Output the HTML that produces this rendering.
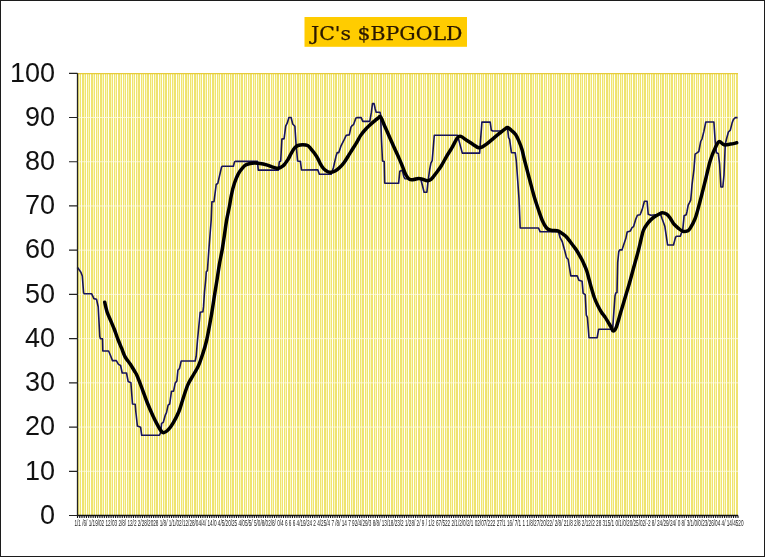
<!DOCTYPE html>
<html><head><meta charset="utf-8"><title>JC's $BPGOLD</title>
<style>
html,body{margin:0;padding:0;background:#fff;}
#chart{position:relative;width:765px;height:557px;box-sizing:border-box;border:1px solid #1c1c1c;background:#fff;overflow:hidden;}
#chart svg{position:absolute;left:-1px;top:-1px;will-change:transform;}
.yl{font-family:"Liberation Sans",sans-serif;font-size:27px;fill:#111;}
.xl{font-family:"Liberation Sans",sans-serif;font-size:8.3px;fill:#1a1a1a;}
.tt{font-family:"DejaVu Serif","Liberation Serif",serif;font-size:18.6px;fill:#2a1800;stroke:#2a1800;stroke-width:0.25px;}
</style></head>
<body>
<div id="chart">
<svg width="765" height="557" viewBox="0 0 765 557">
<rect x="77.5" y="73.3" width="660.5" height="442.2" fill="#EFE370"/>
<path d="M81.50 73.3V515.5M86.50 73.3V515.5M90.50 73.3V515.5M95.50 73.3V515.5M99.50 73.3V515.5M104.50 73.3V515.5M108.50 73.3V515.5M113.50 73.3V515.5M117.50 73.3V515.5M122.50 73.3V515.5M126.50 73.3V515.5M131.50 73.3V515.5M135.50 73.3V515.5M140.50 73.3V515.5M144.50 73.3V515.5M149.50 73.3V515.5M153.50 73.3V515.5M158.50 73.3V515.5M162.50 73.3V515.5M167.50 73.3V515.5M171.50 73.3V515.5M176.50 73.3V515.5M180.50 73.3V515.5M184.50 73.3V515.5M189.50 73.3V515.5M193.50 73.3V515.5M198.50 73.3V515.5M202.50 73.3V515.5M207.50 73.3V515.5M211.50 73.3V515.5M216.50 73.3V515.5M220.50 73.3V515.5M225.50 73.3V515.5M229.50 73.3V515.5M234.50 73.3V515.5M238.50 73.3V515.5M243.50 73.3V515.5M247.50 73.3V515.5M252.50 73.3V515.5M256.50 73.3V515.5M261.50 73.3V515.5M265.50 73.3V515.5M270.50 73.3V515.5M274.50 73.3V515.5M279.50 73.3V515.5M283.50 73.3V515.5M287.50 73.3V515.5M292.50 73.3V515.5M296.50 73.3V515.5M301.50 73.3V515.5M305.50 73.3V515.5M310.50 73.3V515.5M314.50 73.3V515.5M319.50 73.3V515.5M323.50 73.3V515.5M328.50 73.3V515.5M332.50 73.3V515.5M337.50 73.3V515.5M341.50 73.3V515.5M346.50 73.3V515.5M350.50 73.3V515.5M355.50 73.3V515.5M359.50 73.3V515.5M364.50 73.3V515.5M368.50 73.3V515.5M373.50 73.3V515.5M377.50 73.3V515.5M382.50 73.3V515.5M386.50 73.3V515.5M390.50 73.3V515.5M395.50 73.3V515.5M399.50 73.3V515.5M404.50 73.3V515.5M408.50 73.3V515.5M413.50 73.3V515.5M417.50 73.3V515.5M422.50 73.3V515.5M426.50 73.3V515.5M431.50 73.3V515.5M435.50 73.3V515.5M440.50 73.3V515.5M444.50 73.3V515.5M449.50 73.3V515.5M453.50 73.3V515.5M458.50 73.3V515.5M462.50 73.3V515.5M467.50 73.3V515.5M471.50 73.3V515.5M476.50 73.3V515.5M480.50 73.3V515.5M484.50 73.3V515.5M489.50 73.3V515.5M493.50 73.3V515.5M498.50 73.3V515.5M502.50 73.3V515.5M507.50 73.3V515.5M511.50 73.3V515.5M516.50 73.3V515.5M520.50 73.3V515.5M525.50 73.3V515.5M529.50 73.3V515.5M534.50 73.3V515.5M538.50 73.3V515.5M543.50 73.3V515.5M547.50 73.3V515.5M552.50 73.3V515.5M556.50 73.3V515.5M561.50 73.3V515.5M565.50 73.3V515.5M570.50 73.3V515.5M574.50 73.3V515.5M579.50 73.3V515.5M583.50 73.3V515.5M587.50 73.3V515.5M592.50 73.3V515.5M596.50 73.3V515.5M601.50 73.3V515.5M605.50 73.3V515.5M610.50 73.3V515.5M614.50 73.3V515.5M619.50 73.3V515.5M623.50 73.3V515.5M628.50 73.3V515.5M632.50 73.3V515.5M637.50 73.3V515.5M641.50 73.3V515.5M646.50 73.3V515.5M650.50 73.3V515.5M655.50 73.3V515.5M659.50 73.3V515.5M664.50 73.3V515.5M668.50 73.3V515.5M673.50 73.3V515.5M677.50 73.3V515.5M682.50 73.3V515.5M686.50 73.3V515.5M690.50 73.3V515.5M695.50 73.3V515.5M699.50 73.3V515.5M704.50 73.3V515.5M708.50 73.3V515.5M713.50 73.3V515.5M717.50 73.3V515.5M722.50 73.3V515.5M726.50 73.3V515.5M731.50 73.3V515.5M735.50 73.3V515.5" stroke="#FFFFFA" stroke-width="1" fill="none"/>
<path d="M79.50 73.3V515.5M84.50 73.3V515.5M88.50 73.3V515.5M93.50 73.3V515.5M97.50 73.3V515.5M102.50 73.3V515.5M106.50 73.3V515.5M111.50 73.3V515.5M115.50 73.3V515.5M120.50 73.3V515.5M124.50 73.3V515.5M128.50 73.3V515.5M133.50 73.3V515.5M137.50 73.3V515.5M142.50 73.3V515.5M146.50 73.3V515.5M151.50 73.3V515.5M155.50 73.3V515.5M160.50 73.3V515.5M164.50 73.3V515.5M169.50 73.3V515.5M173.50 73.3V515.5M178.50 73.3V515.5M182.50 73.3V515.5M187.50 73.3V515.5M191.50 73.3V515.5M196.50 73.3V515.5M200.50 73.3V515.5M205.50 73.3V515.5M209.50 73.3V515.5M214.50 73.3V515.5M218.50 73.3V515.5M223.50 73.3V515.5M227.50 73.3V515.5M231.50 73.3V515.5M236.50 73.3V515.5M240.50 73.3V515.5M245.50 73.3V515.5M249.50 73.3V515.5M254.50 73.3V515.5M258.50 73.3V515.5M263.50 73.3V515.5M267.50 73.3V515.5M272.50 73.3V515.5M276.50 73.3V515.5M281.50 73.3V515.5M285.50 73.3V515.5M290.50 73.3V515.5M294.50 73.3V515.5M299.50 73.3V515.5M303.50 73.3V515.5M308.50 73.3V515.5M312.50 73.3V515.5M317.50 73.3V515.5M321.50 73.3V515.5M326.50 73.3V515.5M330.50 73.3V515.5M334.50 73.3V515.5M339.50 73.3V515.5M343.50 73.3V515.5M348.50 73.3V515.5M352.50 73.3V515.5M357.50 73.3V515.5M361.50 73.3V515.5M366.50 73.3V515.5M370.50 73.3V515.5M375.50 73.3V515.5M379.50 73.3V515.5M384.50 73.3V515.5M388.50 73.3V515.5M393.50 73.3V515.5M397.50 73.3V515.5M402.50 73.3V515.5M406.50 73.3V515.5M411.50 73.3V515.5M415.50 73.3V515.5M420.50 73.3V515.5M424.50 73.3V515.5M429.50 73.3V515.5M433.50 73.3V515.5M437.50 73.3V515.5M442.50 73.3V515.5M446.50 73.3V515.5M451.50 73.3V515.5M455.50 73.3V515.5M460.50 73.3V515.5M464.50 73.3V515.5M469.50 73.3V515.5M473.50 73.3V515.5M478.50 73.3V515.5M482.50 73.3V515.5M487.50 73.3V515.5M491.50 73.3V515.5M496.50 73.3V515.5M500.50 73.3V515.5M505.50 73.3V515.5M509.50 73.3V515.5M514.50 73.3V515.5M518.50 73.3V515.5M523.50 73.3V515.5M527.50 73.3V515.5M532.50 73.3V515.5M536.50 73.3V515.5M540.50 73.3V515.5M545.50 73.3V515.5M549.50 73.3V515.5M554.50 73.3V515.5M558.50 73.3V515.5M563.50 73.3V515.5M567.50 73.3V515.5M572.50 73.3V515.5M576.50 73.3V515.5M581.50 73.3V515.5M585.50 73.3V515.5M590.50 73.3V515.5M594.50 73.3V515.5M599.50 73.3V515.5M603.50 73.3V515.5M608.50 73.3V515.5M612.50 73.3V515.5M617.50 73.3V515.5M621.50 73.3V515.5M626.50 73.3V515.5M630.50 73.3V515.5M635.50 73.3V515.5M639.50 73.3V515.5M643.50 73.3V515.5M648.50 73.3V515.5M652.50 73.3V515.5M657.50 73.3V515.5M661.50 73.3V515.5M666.50 73.3V515.5M670.50 73.3V515.5M675.50 73.3V515.5M679.50 73.3V515.5M684.50 73.3V515.5M688.50 73.3V515.5M693.50 73.3V515.5M697.50 73.3V515.5M702.50 73.3V515.5M706.50 73.3V515.5M711.50 73.3V515.5M715.50 73.3V515.5M720.50 73.3V515.5M724.50 73.3V515.5M729.50 73.3V515.5M733.50 73.3V515.5" stroke="#FBF8BC" stroke-width="1" fill="none"/>
<path d="M77.5 471.28H738.0M77.5 427.06H738.0M77.5 382.84H738.0M77.5 338.62H738.0M77.5 294.40H738.0M77.5 250.18H738.0M77.5 205.96H738.0M77.5 161.74H738.0M77.5 117.52H738.0" stroke="#FFFCE8" stroke-width="0.75" fill="none"/>
<path d="M77.5 73.70H738.0" stroke="#E6CC3C" stroke-width="1.2"/>
<polyline points="77.0,267.5 78.0,267.9 79.3,270.1 80.9,272.2 82.3,276.0 83.6,292.7 84.2,293.8 91.7,293.8 93.9,298.6 96.5,299.2 98.2,306.7 99.8,336.6 100.4,338.6 102.5,338.8 102.8,351.0 108.6,351.0 110.4,355.2 112.5,360.6 116.3,360.6 118.5,364.4 120.6,365.5 122.2,373.0 126.5,373.0 128.2,381.6 130.9,382.7 132.5,404.0 135.2,404.3 135.8,411.5 137.4,426.1 140.6,427.2 141.7,435.3 159.5,435.3 160.6,432.6 161.6,423.4 163.3,422.3 165.4,414.8 166.5,412.6 168.1,405.1 169.7,404.0 171.5,391.2 173.6,391.2 175.2,383.1 176.9,380.9 177.9,370.2 179.5,368.5 181.2,361.0 195.2,361.0 196.2,356.2 197.5,340.0 200.2,312.3 202.9,311.8 203.5,306.9 204.5,291.9 205.7,280.0 206.3,271.7 207.4,270.6 209.0,248.0 211.2,220.0 211.9,201.7 214.0,201.7 216.2,184.5 217.8,183.4 221.5,167.2 222.6,166.2 233.4,166.2 234.5,161.9 235.6,161.3 257.4,161.4 258.3,170.1 278.4,170.1 279.3,161.9 280.7,161.0 281.9,139.1 284.1,138.6 285.7,126.2 287.3,122.9 288.9,117.5 291.1,117.5 292.7,124.0 294.9,126.2 295.9,142.3 297.6,161.0 300.4,161.4 301.5,170.0 317.8,169.9 319.4,174.2 331.2,174.2 333.4,167.7 336.1,155.9 337.2,152.6 338.8,152.6 340.9,146.2 344.2,139.7 346.3,135.2 349.3,134.9 350.9,127.3 352.0,125.7 353.6,124.6 355.8,118.2 356.9,117.6 361.2,117.6 362.8,121.4 369.8,121.4 371.4,112.2 372.5,103.6 374.1,103.6 375.2,109.0 376.2,112.2 380.0,112.2 380.6,114.9 381.5,140.0 382.5,161.0 384.2,161.5 384.7,183.1 398.6,183.3 399.8,171.2 402.3,170.3 403.9,176.8 405.1,178.8 420.8,179.2 422.5,185.7 424.1,192.2 426.9,192.2 428.1,180.8 429.7,169.5 430.9,163.1 432.2,160.7 434.3,135.3 457.5,135.3 462.3,153.1 479.6,153.1 481.9,122.1 490.2,122.1 491.3,130.2 492.9,131.0 501.6,131.0 505.9,129.1 507.5,128.0 508.6,137.7 509.6,139.3 511.3,151.7 511.5,152.7 515.2,152.7 516.3,160.8 519.0,198.5 520.2,228.0 538.5,228.0 540.2,231.8 558.5,231.8 560.1,237.7 562.2,241.5 564.3,249.0 566.5,257.6 568.1,259.2 570.8,275.9 577.2,275.9 578.9,280.3 582.1,281.3 583.1,293.1 585.2,294.7 586.3,315.2 587.4,317.3 589.0,337.8 597.1,337.8 598.7,329.2 611.6,329.2 612.7,328.1 615.0,296.0 615.8,293.0 617.0,292.6 617.7,262.3 618.8,251.5 619.8,249.9 622.0,249.9 623.6,245.1 625.8,238.6 627.2,232.0 630.4,230.9 632.0,227.7 633.6,226.6 635.8,219.1 637.4,215.3 640.1,214.8 642.2,209.4 644.4,201.3 647.1,201.3 648.2,214.2 650.9,215.3 660.6,214.2 662.2,219.1 664.9,226.6 667.6,245.0 673.5,245.0 675.5,237.4 676.5,236.3 680.3,236.3 681.4,233.1 682.6,231.3 684.1,215.8 686.2,214.8 687.0,211.5 688.2,205.2 689.5,202.7 690.7,200.2 691.4,192.6 692.0,185.1 692.6,180.1 693.9,170.0 695.1,154.1 697.0,152.8 698.8,151.5 700.7,141.5 702.0,139.0 703.9,131.4 705.8,122.0 713.9,122.0 715.2,141.5 716.4,152.8 718.3,153.4 719.6,164.1 720.9,187.0 722.8,187.0 724.0,175.0 725.3,144.0 726.5,139.0 728.4,132.0 730.3,130.2 732.2,122.6 733.4,119.5 735.3,117.6 737.6,117.6" fill="none" stroke="#17135A" stroke-width="1.6" stroke-linejoin="round"/>
<path d="M104.7 302.2C105.1 303.9 106.2 309.1 107.2 312.2C108.2 315.3 109.6 318.0 110.8 320.9C112.0 323.8 113.2 326.4 114.4 329.5C115.6 332.6 116.8 336.4 118.0 339.5C119.2 342.6 120.4 345.3 121.6 348.2C122.8 351.1 123.7 354.2 125.1 356.8C126.5 359.4 128.6 361.6 130.2 364.0C131.8 366.4 133.3 369.1 134.5 371.1C135.7 373.1 135.9 373.0 137.3 376.2C138.7 379.4 141.1 386.0 142.7 390.3C144.3 394.6 145.3 397.7 147.0 402.0C148.7 406.3 151.1 411.8 153.0 415.9C154.9 420.0 157.0 424.0 158.4 426.6C159.8 429.2 160.7 430.5 161.6 431.5C162.5 432.5 162.7 432.9 163.8 432.6C164.9 432.3 166.5 431.6 168.1 429.9C169.7 428.2 171.7 425.4 173.5 422.3C175.3 419.2 177.5 414.9 178.9 411.5C180.3 408.1 180.6 406.4 182.0 402.0C183.4 397.6 185.7 389.9 187.6 385.3C189.5 380.7 191.8 377.7 193.6 374.5C195.4 371.3 196.9 369.3 198.4 365.9C199.9 362.5 201.3 358.3 202.7 354.0C204.1 349.7 205.2 346.6 206.7 340.0C208.2 333.4 210.2 322.0 211.5 314.6C212.8 307.2 213.5 301.9 214.4 295.9C215.3 289.9 216.4 283.9 217.2 278.7C218.0 273.4 218.6 269.2 219.4 264.4C220.2 259.5 221.4 254.5 222.2 249.6C223.0 244.7 223.7 240.0 224.4 235.2C225.1 230.4 225.7 225.7 226.5 220.9C227.3 216.1 228.6 210.8 229.4 206.5C230.2 202.2 230.6 198.9 231.4 195.0C232.2 191.1 233.3 186.5 234.5 183.0C235.7 179.5 236.9 176.4 238.3 173.8C239.7 171.2 241.8 168.8 243.1 167.3C244.4 165.8 244.9 165.4 246.4 164.7C247.9 164.0 249.6 163.4 251.9 163.2C254.2 163.0 257.5 163.1 260.1 163.4C262.7 163.7 265.1 164.4 267.4 165.1C269.7 165.8 272.1 166.9 273.9 167.4C275.7 167.9 276.9 168.6 278.4 168.3C279.9 168.0 281.9 166.6 283.0 165.8C284.1 165.0 284.3 164.6 285.2 163.5C286.1 162.4 287.1 161.0 288.2 159.2C289.2 157.4 290.4 154.7 291.5 152.8C292.6 150.9 293.6 149.1 294.7 147.9C295.8 146.7 296.5 146.0 297.9 145.5C299.2 145.0 301.2 144.7 302.8 144.7C304.4 144.7 306.3 144.8 307.6 145.5C308.9 146.2 309.7 147.5 310.8 148.7C311.9 149.9 313.0 151.3 314.1 152.8C315.2 154.3 316.2 155.7 317.3 157.6C318.4 159.5 319.4 162.2 320.5 164.1C321.6 166.0 322.6 167.6 323.8 168.9C325.0 170.2 326.6 171.2 327.8 171.8C329.0 172.4 329.8 172.3 331.0 172.2C332.2 172.1 333.6 171.8 335.1 171.0C336.6 170.2 338.4 168.8 339.9 167.3C341.4 165.8 342.6 164.6 344.3 162.2C346.0 159.8 348.2 156.0 350.2 152.9C352.1 149.8 354.2 146.5 356.0 143.6C357.8 140.7 359.1 137.8 360.7 135.4C362.3 133.1 363.8 131.2 365.4 129.5C366.9 127.8 368.4 126.4 370.0 124.9C371.6 123.5 373.4 121.9 374.7 120.8C376.0 119.7 377.0 119.0 378.0 118.3C379.0 117.6 379.5 115.8 380.5 116.8C381.5 117.8 382.8 121.7 384.0 124.5C385.2 127.3 386.6 130.3 388.0 133.5C389.4 136.7 391.2 140.8 392.5 143.8C393.8 146.8 394.9 149.0 396.0 151.5C397.1 154.0 398.1 156.1 399.2 158.6C400.3 161.1 401.4 163.8 402.5 166.5C403.6 169.2 404.8 172.9 406.0 175.0C407.2 177.1 408.2 178.5 409.5 179.3C410.8 180.1 412.1 179.8 413.6 179.6C415.1 179.4 416.9 178.5 418.4 178.4C419.9 178.3 421.0 178.8 422.5 179.2C424.0 179.6 425.8 180.8 427.3 180.8C428.8 180.8 429.9 180.4 431.3 179.2C432.7 178.0 434.2 175.7 435.8 173.5C437.4 171.3 439.4 168.9 441.2 166.0C443.0 163.1 444.8 159.4 446.6 156.3C448.4 153.2 450.2 150.7 452.0 147.6C453.8 144.5 455.9 139.9 457.3 138.0C458.8 136.1 459.1 136.0 460.7 136.4C462.2 136.8 464.5 138.8 466.6 140.2C468.7 141.5 471.1 143.2 473.1 144.5C475.1 145.8 476.9 147.3 478.5 147.7C480.1 148.0 481.5 147.2 482.8 146.6C484.1 146.0 484.8 145.5 486.5 144.2C488.2 142.9 490.8 140.6 492.9 138.8C495.0 137.0 497.4 135.0 499.4 133.4C501.4 131.8 503.4 130.1 504.8 129.1C506.2 128.1 506.4 127.3 507.5 127.5C508.6 127.7 509.8 129.0 511.2 130.2C512.5 131.4 514.3 132.7 515.6 134.5C516.9 136.3 517.7 138.4 518.8 140.9C519.9 143.4 521.0 146.1 522.0 149.6C523.0 153.1 523.7 156.9 525.0 162.0C526.3 167.1 528.3 174.5 529.8 180.2C531.3 185.9 532.6 191.2 534.0 196.0C535.4 200.8 536.8 204.9 538.2 209.0C539.6 213.1 540.9 217.3 542.3 220.5C543.7 223.7 545.2 226.4 546.6 228.0C548.0 229.6 549.1 229.8 550.9 230.2C552.7 230.6 555.8 230.3 557.4 230.7C559.0 231.0 559.0 231.4 560.4 232.3C561.8 233.2 564.2 234.7 565.8 236.3C567.4 237.9 568.6 239.6 570.2 241.7C571.8 243.8 574.0 246.7 575.4 248.6C576.8 250.5 577.3 251.6 578.3 253.2C579.3 254.8 580.3 256.8 581.2 258.4C582.1 260.0 582.6 260.9 583.5 263.0C584.4 265.1 585.9 268.2 586.8 271.0C587.7 273.8 588.3 276.7 589.1 279.5C589.9 282.3 590.5 285.0 591.4 288.0C592.3 291.0 593.3 294.8 594.3 297.5C595.3 300.2 596.1 302.1 597.3 304.5C598.5 306.9 599.9 309.8 601.3 312.0C602.6 314.2 603.8 315.2 605.4 317.6C607.0 320.0 609.5 324.4 610.8 326.6C612.1 328.9 612.1 331.1 613.1 331.1C614.1 331.1 615.2 329.9 616.5 326.5C617.8 323.1 619.6 315.9 621.1 311.0C622.6 306.1 623.9 301.7 625.3 297.0C626.7 292.3 628.1 287.9 629.5 283.0C630.9 278.1 632.3 272.6 633.7 267.5C635.1 262.4 636.7 256.9 637.9 252.4C639.1 247.9 639.9 244.2 640.8 240.5C641.7 236.8 642.3 233.1 643.5 230.2C644.7 227.3 646.4 225.0 648.0 222.9C649.6 220.8 651.6 218.9 653.4 217.5C655.2 216.1 657.3 215.1 658.8 214.3C660.3 213.5 661.0 212.8 662.3 212.8C663.6 212.8 665.4 213.4 666.8 214.3C668.1 215.2 669.2 216.8 670.4 218.4C671.6 220.1 672.6 222.5 674.0 224.2C675.4 225.9 677.0 227.2 678.5 228.4C680.0 229.6 681.5 231.0 683.0 231.4C684.5 231.8 686.3 231.4 687.5 230.9C688.7 230.4 688.8 230.5 690.1 228.4C691.4 226.3 693.5 223.0 695.2 218.4C696.9 213.8 698.5 207.0 700.2 200.7C701.9 194.4 703.6 187.3 705.3 180.6C707.0 173.9 708.6 165.9 710.3 160.4C712.0 154.9 713.8 150.9 715.3 147.8C716.8 144.7 717.6 142.1 719.1 141.6C720.6 141.1 722.2 144.4 724.1 144.8C726.0 145.2 728.3 144.4 730.4 144.1C732.5 143.8 735.7 143.0 736.7 142.8" fill="none" stroke="#000" stroke-width="3.5" stroke-linejoin="round" stroke-linecap="round"/>
<path d="M77.5 73.3V515.5" stroke="#222" stroke-width="1.3"/>
<path d="M69 515.50H77.5M69 471.28H77.5M69 427.06H77.5M69 382.84H77.5M69 338.62H77.5M69 294.40H77.5M69 250.18H77.5M69 205.96H77.5M69 161.74H77.5M69 117.52H77.5M69 73.30H77.5" stroke="#222" stroke-width="1.2"/>
<path d="M77.5 515.5H738.0" stroke="#111" stroke-width="1.3"/>
<path d="M77.50 515.5V518.1M79.74 515.5V518.1M81.98 515.5V518.1M84.22 515.5V518.1M86.46 515.5V518.1M88.69 515.5V518.1M90.93 515.5V518.1M93.17 515.5V518.1M95.41 515.5V518.1M97.65 515.5V518.1M99.89 515.5V518.1M102.13 515.5V518.1M104.37 515.5V518.1M106.61 515.5V518.1M108.85 515.5V518.1M111.08 515.5V518.1M113.32 515.5V518.1M115.56 515.5V518.1M117.80 515.5V518.1M120.04 515.5V518.1M122.28 515.5V518.1M124.52 515.5V518.1M126.76 515.5V518.1M129.00 515.5V518.1M131.24 515.5V518.1M133.47 515.5V518.1M135.71 515.5V518.1M137.95 515.5V518.1M140.19 515.5V518.1M142.43 515.5V518.1M144.67 515.5V518.1M146.91 515.5V518.1M149.15 515.5V518.1M151.39 515.5V518.1M153.63 515.5V518.1M155.86 515.5V518.1M158.10 515.5V518.1M160.34 515.5V518.1M162.58 515.5V518.1M164.82 515.5V518.1M167.06 515.5V518.1M169.30 515.5V518.1M171.54 515.5V518.1M173.78 515.5V518.1M176.02 515.5V518.1M178.25 515.5V518.1M180.49 515.5V518.1M182.73 515.5V518.1M184.97 515.5V518.1M187.21 515.5V518.1M189.45 515.5V518.1M191.69 515.5V518.1M193.93 515.5V518.1M196.17 515.5V518.1M198.41 515.5V518.1M200.64 515.5V518.1M202.88 515.5V518.1M205.12 515.5V518.1M207.36 515.5V518.1M209.60 515.5V518.1M211.84 515.5V518.1M214.08 515.5V518.1M216.32 515.5V518.1M218.56 515.5V518.1M220.79 515.5V518.1M223.03 515.5V518.1M225.27 515.5V518.1M227.51 515.5V518.1M229.75 515.5V518.1M231.99 515.5V518.1M234.23 515.5V518.1M236.47 515.5V518.1M238.71 515.5V518.1M240.95 515.5V518.1M243.18 515.5V518.1M245.42 515.5V518.1M247.66 515.5V518.1M249.90 515.5V518.1M252.14 515.5V518.1M254.38 515.5V518.1M256.62 515.5V518.1M258.86 515.5V518.1M261.10 515.5V518.1M263.34 515.5V518.1M265.57 515.5V518.1M267.81 515.5V518.1M270.05 515.5V518.1M272.29 515.5V518.1M274.53 515.5V518.1M276.77 515.5V518.1M279.01 515.5V518.1M281.25 515.5V518.1M283.49 515.5V518.1M285.73 515.5V518.1M287.96 515.5V518.1M290.20 515.5V518.1M292.44 515.5V518.1M294.68 515.5V518.1M296.92 515.5V518.1M299.16 515.5V518.1M301.40 515.5V518.1M303.64 515.5V518.1M305.88 515.5V518.1M308.12 515.5V518.1M310.35 515.5V518.1M312.59 515.5V518.1M314.83 515.5V518.1M317.07 515.5V518.1M319.31 515.5V518.1M321.55 515.5V518.1M323.79 515.5V518.1M326.03 515.5V518.1M328.27 515.5V518.1M330.51 515.5V518.1M332.74 515.5V518.1M334.98 515.5V518.1M337.22 515.5V518.1M339.46 515.5V518.1M341.70 515.5V518.1M343.94 515.5V518.1M346.18 515.5V518.1M348.42 515.5V518.1M350.66 515.5V518.1M352.89 515.5V518.1M355.13 515.5V518.1M357.37 515.5V518.1M359.61 515.5V518.1M361.85 515.5V518.1M364.09 515.5V518.1M366.33 515.5V518.1M368.57 515.5V518.1M370.81 515.5V518.1M373.05 515.5V518.1M375.28 515.5V518.1M377.52 515.5V518.1M379.76 515.5V518.1M382.00 515.5V518.1M384.24 515.5V518.1M386.48 515.5V518.1M388.72 515.5V518.1M390.96 515.5V518.1M393.20 515.5V518.1M395.44 515.5V518.1M397.67 515.5V518.1M399.91 515.5V518.1M402.15 515.5V518.1M404.39 515.5V518.1M406.63 515.5V518.1M408.87 515.5V518.1M411.11 515.5V518.1M413.35 515.5V518.1M415.59 515.5V518.1M417.83 515.5V518.1M420.06 515.5V518.1M422.30 515.5V518.1M424.54 515.5V518.1M426.78 515.5V518.1M429.02 515.5V518.1M431.26 515.5V518.1M433.50 515.5V518.1M435.74 515.5V518.1M437.98 515.5V518.1M440.22 515.5V518.1M442.45 515.5V518.1M444.69 515.5V518.1M446.93 515.5V518.1M449.17 515.5V518.1M451.41 515.5V518.1M453.65 515.5V518.1M455.89 515.5V518.1M458.13 515.5V518.1M460.37 515.5V518.1M462.61 515.5V518.1M464.84 515.5V518.1M467.08 515.5V518.1M469.32 515.5V518.1M471.56 515.5V518.1M473.80 515.5V518.1M476.04 515.5V518.1M478.28 515.5V518.1M480.52 515.5V518.1M482.76 515.5V518.1M484.99 515.5V518.1M487.23 515.5V518.1M489.47 515.5V518.1M491.71 515.5V518.1M493.95 515.5V518.1M496.19 515.5V518.1M498.43 515.5V518.1M500.67 515.5V518.1M502.91 515.5V518.1M505.15 515.5V518.1M507.38 515.5V518.1M509.62 515.5V518.1M511.86 515.5V518.1M514.10 515.5V518.1M516.34 515.5V518.1M518.58 515.5V518.1M520.82 515.5V518.1M523.06 515.5V518.1M525.30 515.5V518.1M527.54 515.5V518.1M529.77 515.5V518.1M532.01 515.5V518.1M534.25 515.5V518.1M536.49 515.5V518.1M538.73 515.5V518.1M540.97 515.5V518.1M543.21 515.5V518.1M545.45 515.5V518.1M547.69 515.5V518.1M549.93 515.5V518.1M552.16 515.5V518.1M554.40 515.5V518.1M556.64 515.5V518.1M558.88 515.5V518.1M561.12 515.5V518.1M563.36 515.5V518.1M565.60 515.5V518.1M567.84 515.5V518.1M570.08 515.5V518.1M572.32 515.5V518.1M574.55 515.5V518.1M576.79 515.5V518.1M579.03 515.5V518.1M581.27 515.5V518.1M583.51 515.5V518.1M585.75 515.5V518.1M587.99 515.5V518.1M590.23 515.5V518.1M592.47 515.5V518.1M594.71 515.5V518.1M596.94 515.5V518.1M599.18 515.5V518.1M601.42 515.5V518.1M603.66 515.5V518.1M605.90 515.5V518.1M608.14 515.5V518.1M610.38 515.5V518.1M612.62 515.5V518.1M614.86 515.5V518.1M617.09 515.5V518.1M619.33 515.5V518.1M621.57 515.5V518.1M623.81 515.5V518.1M626.05 515.5V518.1M628.29 515.5V518.1M630.53 515.5V518.1M632.77 515.5V518.1M635.01 515.5V518.1M637.25 515.5V518.1M639.48 515.5V518.1M641.72 515.5V518.1M643.96 515.5V518.1M646.20 515.5V518.1M648.44 515.5V518.1M650.68 515.5V518.1M652.92 515.5V518.1M655.16 515.5V518.1M657.40 515.5V518.1M659.64 515.5V518.1M661.87 515.5V518.1M664.11 515.5V518.1M666.35 515.5V518.1M668.59 515.5V518.1M670.83 515.5V518.1M673.07 515.5V518.1M675.31 515.5V518.1M677.55 515.5V518.1M679.79 515.5V518.1M682.03 515.5V518.1M684.26 515.5V518.1M686.50 515.5V518.1M688.74 515.5V518.1M690.98 515.5V518.1M693.22 515.5V518.1M695.46 515.5V518.1M697.70 515.5V518.1M699.94 515.5V518.1M702.18 515.5V518.1M704.42 515.5V518.1M706.65 515.5V518.1M708.89 515.5V518.1M711.13 515.5V518.1M713.37 515.5V518.1M715.61 515.5V518.1M717.85 515.5V518.1M720.09 515.5V518.1M722.33 515.5V518.1M724.57 515.5V518.1M726.81 515.5V518.1M729.04 515.5V518.1M731.28 515.5V518.1M733.52 515.5V518.1M735.76 515.5V518.1M738.00 515.5V518.1" stroke="#111" stroke-width="1.1"/>
<text x="55" y="523.7" text-anchor="end" class="yl">0</text>
<text x="55" y="479.5" text-anchor="end" class="yl">10</text>
<text x="55" y="435.3" text-anchor="end" class="yl">20</text>
<text x="55" y="391.0" text-anchor="end" class="yl">30</text>
<text x="55" y="346.8" text-anchor="end" class="yl">40</text>
<text x="55" y="302.6" text-anchor="end" class="yl">50</text>
<text x="55" y="258.4" text-anchor="end" class="yl">60</text>
<text x="55" y="214.2" text-anchor="end" class="yl">70</text>
<text x="55" y="169.9" text-anchor="end" class="yl">80</text>
<text x="55" y="125.7" text-anchor="end" class="yl">90</text>
<text x="55" y="81.5" text-anchor="end" class="yl">100</text>
<text x="74.5" y="525.5" class="xl" textLength="669.0" lengthAdjust="spacingAndGlyphs">1/1 /6/ 1/19/02 12/03 2/8/ 12/2 2/28/2028 1/8/ 1/1/02/12/28/04/4/ 14/0 4/5/20/25 4/05/5/ 5/0/8/02/8/ 0/4 6 6 6 4/19/24 2 4/25/4 7 /8/ 14 7 92/4/29/3 8/8/ 13/18/23/2 1/28/ 2/ 9 / 1/2 67/522 2/1/2/0/2/1 02/07/222 27/1 16/ 7/1 1 1/8/27/20/22/ 2/8/ 21/8 2/8 2/12/2 28 315/1 0/1/0/20/25/02/-2 8/ 24/29/24/ 0 8/ 3/1/0/0/23/26/04 4/ 14/4520</text>
<rect x="304.5" y="17" width="162.5" height="29.8" fill="#FFCC00"/>
<text x="311" y="39.7" class="tt" textLength="151.5" lengthAdjust="spacingAndGlyphs">JC&#39;s $BPGOLD</text>
</svg>

</div>
</body></html>
